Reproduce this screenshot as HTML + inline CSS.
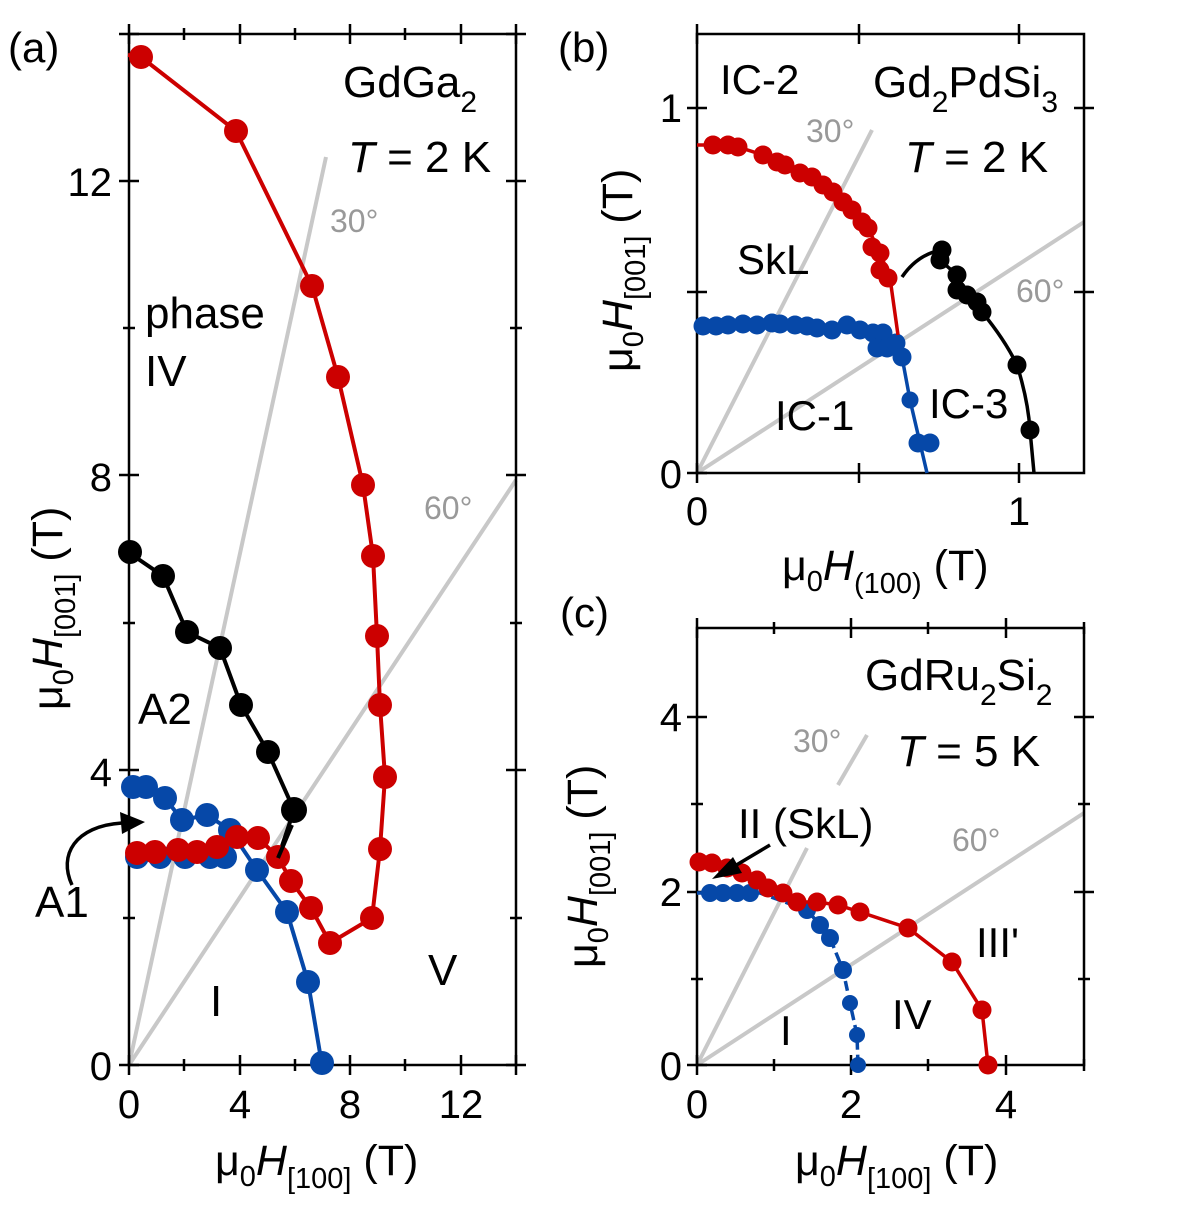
<!DOCTYPE html>
<html><head><meta charset="utf-8"><style>
html,body{margin:0;padding:0;background:#fff;}
svg{display:block;font-family:"Liberation Sans",sans-serif;}
</style></head><body>
<svg width="1196" height="1210" viewBox="0 0 1196 1210" xmlns="http://www.w3.org/2000/svg">
<!-- ================= PANEL A ================= -->
<g stroke="#c8c8c8" stroke-width="4" fill="none">
<line x1="129" y1="1065" x2="326" y2="157"/>
<line x1="129" y1="1065" x2="516" y2="480"/>
</g>
<g stroke="#000" stroke-width="2.5" fill="none">
<rect x="129" y="34" width="387" height="1031"/>
<path d="M129,1055V1075 M184,1059V1071 M240,1055V1075 M295,1059V1071 M350,1055V1075 M405,1059V1071 M461,1055V1075 M516,1055V1075
M129,24V44 M184,28V40 M240,24V44 M295,28V40 M350,24V44 M405,28V40 M461,24V44 M516,24V44
M119,1065H139 M123,918H135 M119,770H139 M123,623H135 M119,475H139 M123,328H135 M119,181H139 M119,34H139
M506,1065H526 M510,918H522 M506,770H526 M510,623H522 M506,475H526 M510,328H522 M506,181H526 M506,34H526"/>
</g>
<g font-size="40" fill="#000">
<text x="112" y="1080" text-anchor="end">0</text>
<text x="112" y="786" text-anchor="end">4</text>
<text x="112" y="491" text-anchor="end">8</text>
<text x="112" y="196" text-anchor="end">12</text>
<text x="129" y="1118" text-anchor="middle">0</text>
<text x="240" y="1118" text-anchor="middle">4</text>
<text x="350" y="1118" text-anchor="middle">8</text>
<text x="461" y="1118" text-anchor="middle">12</text>
</g>
<text x="215" y="1175" font-size="43">μ<tspan font-size="29" dy="11">0</tspan><tspan font-style="italic" dy="-11">H</tspan><tspan font-size="29" dy="13">[100]</tspan><tspan dy="-13"> (T)</tspan></text>
<text transform="translate(62,710) rotate(-90)" font-size="43">μ<tspan font-size="29" dy="11">0</tspan><tspan font-style="italic" dy="-11">H</tspan><tspan font-size="29" dy="13">[001]</tspan><tspan dy="-13"> (T)</tspan></text>
<text x="8" y="62" font-size="42">(a)</text>
<text x="343" y="97" font-size="44">GdGa<tspan font-size="30" dy="15">2</tspan></text>
<text x="348" y="172" font-size="44"><tspan font-style="italic">T</tspan> = 2 K</text>
<text x="330" y="232" font-size="32" fill="#999">30°</text>
<text x="424" y="519" font-size="32" fill="#999">60°</text>
<g font-size="44">
<text x="145" y="328">phase</text>
<text x="145" y="386">IV</text>
<text x="138" y="724">A2</text>
<text x="210" y="1016">I</text>
<text x="428" y="985">V</text>
<text x="35" y="917">A1</text>
</g>
<path d="M72,885 C58,855 75,826 122,823" stroke="#000" stroke-width="3.5" fill="none"/>
<polygon points="145,822 120,812 122,834" fill="#000"/>
<g stroke="#000" stroke-width="4" fill="none"><polyline points="128,552 163,576 187,632 220,648 241,705 268,752 294,810 278,858"/></g>
<g fill="#000"><circle cx="130" cy="552" r="12"/><circle cx="163" cy="576" r="12"/><circle cx="187" cy="632" r="12"/><circle cx="220" cy="648" r="12"/><circle cx="241" cy="705" r="12"/><circle cx="268" cy="752" r="12"/><circle cx="294" cy="810" r="13"/></g>
<g stroke="#0648a8" stroke-width="4" fill="none"><polyline points="129,787 143,787 165,798 182,820 207,815 230,830 257,870 287,912 308,982 322,1065"/><line x1="129" y1="857" x2="228" y2="857"/></g>
<g fill="#0648a8"><circle cx="133" cy="787" r="12"/><circle cx="146" cy="787" r="12"/><circle cx="165" cy="798" r="12"/><circle cx="182" cy="820" r="12"/><circle cx="207" cy="815" r="12"/><circle cx="230" cy="830" r="12"/><circle cx="257" cy="870" r="12"/><circle cx="287" cy="912" r="12"/><circle cx="308" cy="982" r="12"/><circle cx="322" cy="1063" r="12"/>
<circle cx="137" cy="857" r="12"/><circle cx="160" cy="857" r="12"/><circle cx="185" cy="857" r="12"/><circle cx="210" cy="857" r="12"/><circle cx="225" cy="857" r="12"/></g>
<g stroke="#cc0000" stroke-width="4" fill="none"><polyline points="128,55 141,57 236,131 312,286 338,377 363,485 373,556 377,636 380,705 385,777 380,849 372,918 330,943 311,908 291,881 278,857 258,838 237,837 217,847 197,852 178,850 155,852 137,853 129,853"/></g>
<g fill="#cc0000"><circle cx="141" cy="57" r="12"/><circle cx="236" cy="131" r="12"/><circle cx="312" cy="286" r="12"/><circle cx="338" cy="377" r="12"/><circle cx="363" cy="485" r="12"/><circle cx="373" cy="556" r="12"/><circle cx="377" cy="636" r="12"/><circle cx="380" cy="705" r="12"/><circle cx="385" cy="777" r="12"/><circle cx="380" cy="849" r="12"/><circle cx="372" cy="918" r="12"/><circle cx="330" cy="943" r="12"/><circle cx="311" cy="908" r="12"/><circle cx="291" cy="881" r="12"/><circle cx="278" cy="857" r="12"/><circle cx="258" cy="838" r="12"/><circle cx="237" cy="837" r="12"/><circle cx="217" cy="847" r="12"/><circle cx="197" cy="852" r="12"/><circle cx="178" cy="850" r="12"/><circle cx="155" cy="852" r="12"/><circle cx="137" cy="853" r="12"/></g>
<line x1="292" y1="825" x2="278" y2="858" stroke="#000" stroke-width="4"/>

<!-- ================= PANEL B ================= -->
<g stroke="#c8c8c8" stroke-width="4" fill="none">
<line x1="697" y1="473" x2="872" y2="130"/>
<line x1="697" y1="473" x2="1084" y2="222"/>
</g>
<g stroke="#000" stroke-width="2.5" fill="none">
<rect x="697" y="34" width="387" height="439"/>
<path d="M697,463V483 M859,463V483 M1019,463V483 M697,24V44 M859,24V44 M1019,24V44
M687,473H707 M687,292H707 M687,108H707 M1074,292H1094 M1074,108H1094"/>
</g>
<g font-size="40">
<text x="682" y="488" text-anchor="end">0</text>
<text x="682" y="122" text-anchor="end">1</text>
<text x="697" y="525" text-anchor="middle">0</text>
<text x="1019" y="525" text-anchor="middle">1</text>
</g>
<text x="782" y="580" font-size="43">μ<tspan font-size="29" dy="11">0</tspan><tspan font-style="italic" dy="-11">H</tspan><tspan font-size="29" dy="13">(100)</tspan><tspan dy="-13"> (T)</tspan></text>
<text transform="translate(632,372) rotate(-90)" font-size="43">μ<tspan font-size="29" dy="11">0</tspan><tspan font-style="italic" dy="-11">H</tspan><tspan font-size="29" dy="13">[001]</tspan><tspan dy="-13"> (T)</tspan></text>
<text x="558" y="62" font-size="42">(b)</text>
<text x="720" y="94" font-size="42">IC-2</text>
<text x="873" y="97" font-size="44">Gd<tspan font-size="30" dy="15">2</tspan><tspan dy="-15">PdSi</tspan><tspan font-size="30" dy="15">3</tspan></text>
<text x="905" y="172" font-size="44"><tspan font-style="italic">T</tspan> = 2 K</text>
<text x="806" y="142" font-size="32" fill="#999">30°</text>
<text x="1016" y="302" font-size="32" fill="#999">60°</text>
<text x="737" y="274" font-size="42">SkL</text>
<text x="775" y="430" font-size="42">IC-1</text>
<text x="929" y="418" font-size="42">IC-3</text>
<path d="M902,277 C915,258 930,252 942,250 M942,250 L940,260 L957,275 L957,290 L967,295 L977,302 L982,312 Q1005,340 1017,365 Q1028,400 1030,430 L1034,473" stroke="#000" stroke-width="3.5" fill="none"/>
<g fill="#000"><circle cx="942" cy="250" r="9.5"/><circle cx="940" cy="260" r="9.5"/><circle cx="957" cy="275" r="9.5"/><circle cx="957" cy="290" r="9.5"/><circle cx="967" cy="295" r="9.5"/><circle cx="977" cy="302" r="9.5"/><circle cx="982" cy="312" r="9.5"/><circle cx="1017" cy="365" r="9.5"/><circle cx="1030" cy="430" r="9.5"/></g>
<g stroke="#0648a8" stroke-width="3.5" fill="none"><polyline points="697,326 850,327 877,340 902,357 910,400 920,443 927,473"/></g>
<g fill="#0648a8">
<circle cx="703" cy="326" r="9.5"/><circle cx="716" cy="326" r="9.5"/><circle cx="728" cy="325" r="9.5"/><circle cx="743" cy="324" r="9.5"/><circle cx="757" cy="325" r="9.5"/><circle cx="772" cy="323" r="9.5"/><circle cx="780" cy="324" r="9.5"/><circle cx="795" cy="325" r="9.5"/><circle cx="807" cy="326" r="9.5"/><circle cx="817" cy="328" r="9.5"/><circle cx="832" cy="330" r="9.5"/><circle cx="847" cy="325" r="9.5"/><circle cx="860" cy="330" r="9.5"/><circle cx="873" cy="333" r="9.5"/><circle cx="883" cy="333" r="9.5"/><circle cx="877" cy="348" r="9.5"/><circle cx="887" cy="348" r="9.5"/><circle cx="896" cy="343" r="9.5"/><circle cx="902" cy="357" r="9.5"/><circle cx="910" cy="400" r="8.5"/><circle cx="918" cy="443" r="9.5"/><circle cx="930" cy="443" r="9.5"/></g>
<g stroke="#cc0000" stroke-width="3.5" fill="none"><polyline points="697,145 713,145 738,147 763,155 785,165 812,177 833,192 852,210 868,228 880,253 890,278 898,335"/></g>
<g fill="#cc0000"><circle cx="713" cy="145" r="9.5"/><circle cx="728" cy="145" r="9.5"/><circle cx="738" cy="147" r="9.5"/><circle cx="763" cy="155" r="9.5"/><circle cx="777" cy="162" r="9.5"/><circle cx="785" cy="165" r="9.5"/><circle cx="800" cy="173" r="9.5"/><circle cx="812" cy="177" r="9.5"/><circle cx="823" cy="185" r="9.5"/><circle cx="833" cy="192" r="9.5"/><circle cx="843" cy="202" r="9.5"/><circle cx="852" cy="210" r="9.5"/><circle cx="862" cy="222" r="9.5"/><circle cx="868" cy="228" r="9.5"/><circle cx="872" cy="247" r="9.5"/><circle cx="880" cy="253" r="9.5"/><circle cx="880" cy="270" r="9.5"/><circle cx="888" cy="278" r="9.5"/></g>

<!-- ================= PANEL C ================= -->
<g stroke="#c8c8c8" stroke-width="4" fill="none">
<line x1="697" y1="1065" x2="807" y2="848"/>
<line x1="838" y1="785" x2="867" y2="735"/>
<line x1="697" y1="1065" x2="1084" y2="813"/>
</g>
<g stroke="#000" stroke-width="2.5" fill="none">
<rect x="697" y="628" width="387" height="437"/>
<path d="M697,1055V1075 M774,1059V1071 M851,1055V1075 M928,1059V1071 M1006,1055V1075 M1084,1059V1071
M697,618V638 M774,622V634 M851,618V638 M928,622V634 M1006,618V638 M1084,622V634
M687,1065H707 M691,979H703 M687,892H707 M691,804H703 M687,717H707
M1078,979H1090 M1074,892H1094 M1078,804H1090 M1074,717H1094"/>
</g>
<g font-size="40">
<text x="682" y="1080" text-anchor="end">0</text>
<text x="682" y="906" text-anchor="end">2</text>
<text x="682" y="731" text-anchor="end">4</text>
<text x="697" y="1118" text-anchor="middle">0</text>
<text x="851" y="1118" text-anchor="middle">2</text>
<text x="1006" y="1118" text-anchor="middle">4</text>
</g>
<text x="795" y="1175" font-size="43">μ<tspan font-size="29" dy="11">0</tspan><tspan font-style="italic" dy="-11">H</tspan><tspan font-size="29" dy="13">[100]</tspan><tspan dy="-13"> (T)</tspan></text>
<text transform="translate(597,968) rotate(-90)" font-size="43">μ<tspan font-size="29" dy="11">0</tspan><tspan font-style="italic" dy="-11">H</tspan><tspan font-size="29" dy="13">[001]</tspan><tspan dy="-13"> (T)</tspan></text>
<text x="560" y="627" font-size="42">(c)</text>
<text x="865" y="690" font-size="44">GdRu<tspan font-size="30" dy="15">2</tspan><tspan dy="-15">Si</tspan><tspan font-size="30" dy="15">2</tspan></text>
<text x="897" y="766" font-size="44"><tspan font-style="italic">T</tspan> = 5 K</text>
<text x="793" y="752" font-size="32" fill="#999">30°</text>
<text x="952" y="851" font-size="32" fill="#999">60°</text>
<text x="738" y="838" font-size="42">II (SkL)</text>
<text x="976" y="957" font-size="42">III'</text>
<text x="892" y="1029" font-size="42">IV</text>
<text x="780" y="1045" font-size="42">I</text>
<g stroke="#0648a8" stroke-width="3.5" fill="none" stroke-dasharray="10,5"><polyline points="697,893 760,893 807,910 820,925 830,938 843,970 850,1003 857,1035 858,1065"/></g>
<g fill="#0648a8"><circle cx="710" cy="893" r="9"/><circle cx="723" cy="893" r="9"/><circle cx="737" cy="893" r="9"/><circle cx="750" cy="893" r="9"/><circle cx="807" cy="910" r="9"/><circle cx="820" cy="925" r="9"/><circle cx="830" cy="938" r="9"/><circle cx="843" cy="970" r="9"/><circle cx="850" cy="1003" r="8"/><circle cx="857" cy="1035" r="8"/><circle cx="858" cy="1065" r="8"/></g>
<g stroke="#cc0000" stroke-width="3.5" fill="none"><polyline points="697,862 712,863 727,868 742,873 757,880 768,888 783,893 797,902 817,902 838,905 860,912 908,928 952,962 982,1010 988,1065"/></g>
<g fill="#cc0000"><circle cx="699" cy="862" r="9.5"/><circle cx="712" cy="863" r="9.5"/><circle cx="727" cy="868" r="9.5"/><circle cx="742" cy="873" r="9.5"/><circle cx="757" cy="880" r="9.5"/><circle cx="768" cy="888" r="9.5"/><circle cx="783" cy="893" r="9.5"/><circle cx="797" cy="902" r="9.5"/><circle cx="817" cy="902" r="9.5"/><circle cx="838" cy="905" r="9.5"/><circle cx="860" cy="912" r="9.5"/><circle cx="908" cy="928" r="9.5"/><circle cx="952" cy="962" r="9.5"/><circle cx="982" cy="1010" r="9.5"/><circle cx="988" cy="1065" r="9.5"/></g>
<line x1="770" y1="845" x2="728" y2="870" stroke="#000" stroke-width="3.5"/>
<polygon points="712,879 733,857 742,873" fill="#000"/>
</svg>
</body></html>
